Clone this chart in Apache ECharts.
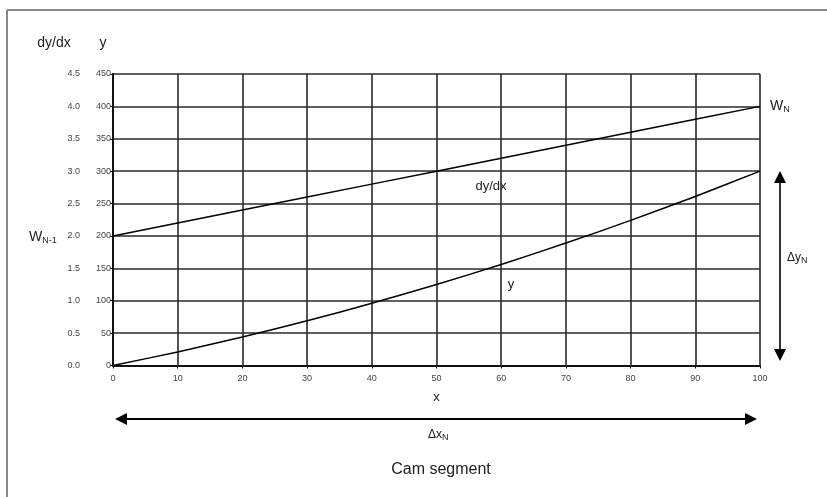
<!DOCTYPE html>
<html>
<head>
<meta charset="utf-8">
<script src="https://cdn.jsdelivr.net/npm/echarts@6/dist/echarts.min.js"></script>
<style>
  html, body { margin: 0; padding: 0; background: #fff; }
  #main { width: 827px; height: 497px; }
</style>
</head>
<body>
<div id="main"></div>
<script>
// data
const xValues = [0, 10, 20, 30, 40, 50, 60, 70, 80, 90, 100];
const slopeValues = [2.0, 2.2, 2.4, 2.6, 2.8, 3.0, 3.2, 3.4, 3.6, 3.8, 4.0]; // dy/dx
const yValues = [0, 21, 44, 69, 96, 125, 156, 189, 224, 261, 300];          // y

const FONT = 'Liberation Sans, Arial, sans-serif';

const chart = echarts.init(document.getElementById('main'));

const tri = (pts) => ({
  type: 'polygon',
  shape: { points: pts },
  style: { fill: '#000' }
});

const txt = (x, y, text, size, align, rich) => ({
  type: 'text',
  x: x, y: y,
  style: {
    text: text,
    font: size + 'px ' + FONT,
    fill: '#222',
    align: align || 'center',
    verticalAlign: 'middle',
    rich: rich
  }
});

const subRich = (big, small) => ({
  b: { fontSize: big, fontFamily: FONT, fill: '#222' },
  s: { fontSize: small, fontFamily: FONT, fill: '#222', padding: [big * 0.45, 0, 0, 0] }
});

const option = {
  animation: false,
  backgroundColor: '#fff',
  grid: { left: 113, right: 67, top: 74, bottom: 131.5 },
  xAxis: {
    type: 'value',
    min: 0, max: 100, interval: 10,
    name: 'x',
    nameLocation: 'middle',
    nameGap: 25,
    nameTextStyle: { fontFamily: FONT, fontSize: 13, color: '#222' },
    axisLine: { lineStyle: { color: '#111', width: 2 } },
    axisTick: { show: true, length: 3, lineStyle: { color: '#111' } },
    axisLabel: { fontFamily: FONT, fontSize: 9, color: '#444', margin: 9 },
    splitLine: { show: true, lineStyle: { color: '#2a2a2a', width: 1.6 } }
  },
  yAxis: [
    {
      // dy/dx scale
      type: 'value',
      position: 'left',
      offset: 31,
      min: 0, max: 4.5, interval: 0.5,
      axisLine: { show: true, lineStyle: { color: '#555', width: 2 } },
      axisTick: { show: true, length: 3, lineStyle: { color: '#555' } },
      axisLabel: {
        fontFamily: FONT, fontSize: 9, color: '#444', margin: 2,
        formatter: (v) => v.toFixed(1)
      },
      splitLine: { show: false }
    },
    {
      // y scale
      type: 'value',
      position: 'left',
      min: 0, max: 450, interval: 50,
      axisLine: { show: true, lineStyle: { color: '#111', width: 2 } },
      axisTick: { show: true, length: 3, lineStyle: { color: '#111' } },
      axisLabel: { fontFamily: FONT, fontSize: 9, color: '#444', margin: 2 },
      splitLine: { show: true, lineStyle: { color: '#2a2a2a', width: 1.6 } }
    }
  ],
  series: [
    {
      name: 'dy/dx',
      type: 'line',
      yAxisIndex: 0,
      data: xValues.map((x, i) => [x, slopeValues[i]]),
      showSymbol: false,
      lineStyle: { color: '#000', width: 1.5 }
    },
    {
      name: 'y',
      type: 'line',
      yAxisIndex: 1,
      smooth: 0.3,
      data: xValues.map((x, i) => [x, yValues[i]]),
      showSymbol: false,
      lineStyle: { color: '#000', width: 1.5 }
    }
  ],
  graphic: [
    // frame
    { type: 'line', shape: { x1: 7, y1: 10, x2: 827, y2: 10 }, style: { stroke: '#888', lineWidth: 2 } },
    { type: 'line', shape: { x1: 7, y1: 10, x2: 7, y2: 497 }, style: { stroke: '#888', lineWidth: 2 } },
    // axis titles
    txt(54, 43, 'dy/dx', 14),
    txt(103, 43, 'y', 14),
    // curve labels
    txt(491, 186, 'dy/dx', 13),
    txt(511, 284, 'y', 13),
    // W labels
    {
      type: 'text', x: 29, y: 237,
      style: { text: '{b|W}{s|N-1}', align: 'left', verticalAlign: 'middle', rich: subRich(14, 9) }
    },
    {
      type: 'text', x: 770, y: 106,
      style: { text: '{b|W}{s|N}', align: 'left', verticalAlign: 'middle', rich: subRich(14, 9) }
    },
    // horizontal double arrow
    { type: 'line', shape: { x1: 125, y1: 419, x2: 747, y2: 419 }, style: { stroke: '#000', lineWidth: 2 } },
    tri([[115, 419], [127, 413], [127, 425]]),
    tri([[757, 419], [745, 413], [745, 425]]),
    {
      type: 'text', x: 428, y: 435,
      style: { text: '{b|Δx}{s|N}', align: 'left', verticalAlign: 'middle', rich: subRich(12, 9) }
    },
    // vertical double arrow
    { type: 'line', shape: { x1: 780, y1: 181, x2: 780, y2: 351 }, style: { stroke: '#333', lineWidth: 2 } },
    tri([[780, 171], [774, 183], [786, 183]]),
    tri([[780, 361], [774, 349], [786, 349]]),
    {
      type: 'text', x: 787, y: 258,
      style: { text: '{b|Δy}{s|N}', align: 'left', verticalAlign: 'middle', rich: subRich(12, 9) }
    },
    // caption
    txt(441, 470, 'Cam segment', 16)
  ]
};

chart.setOption(option);
</script>
</body>
</html>
